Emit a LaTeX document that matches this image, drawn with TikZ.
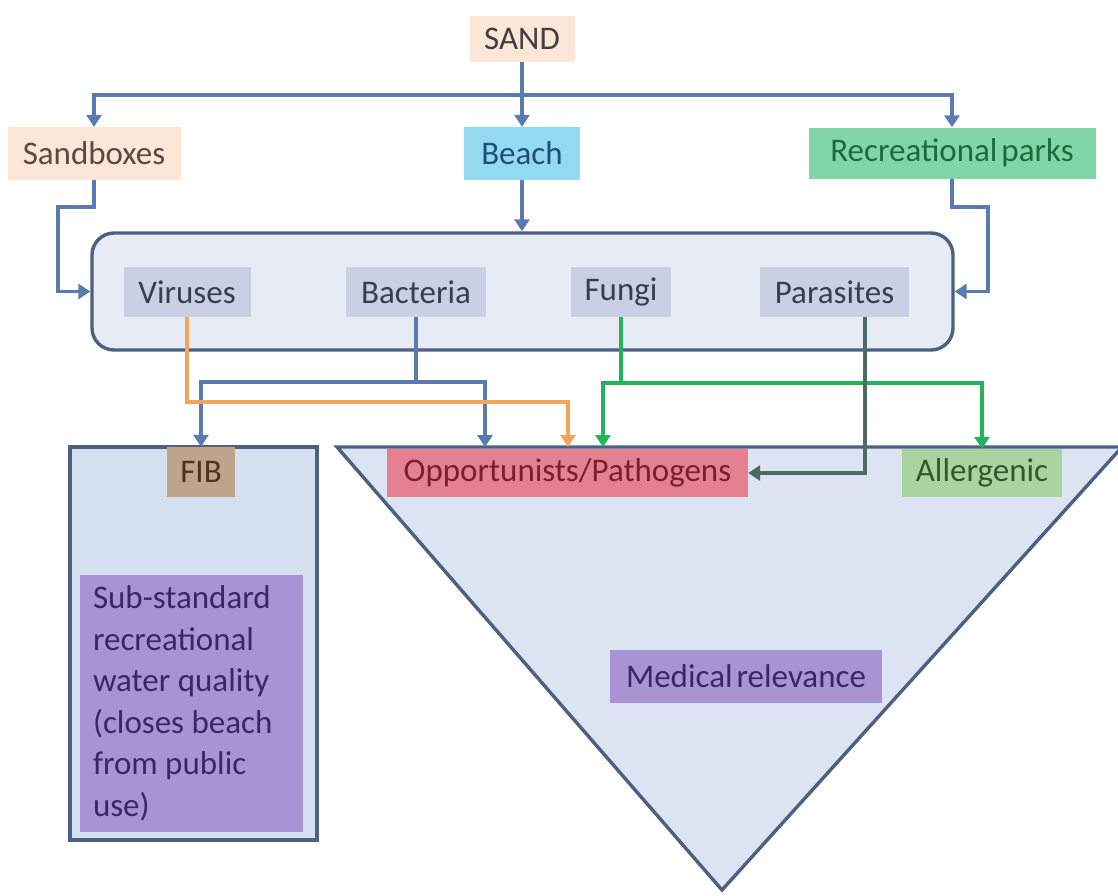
\documentclass[tikz,border=0pt]{standalone}
\usepackage{fontspec}
\setmainfont{Carlito}
\usetikzlibrary{arrows.meta}
\definecolor{cSandF}{HTML}{FCE6D8}
\definecolor{cBeachF}{HTML}{93D9F0}
\definecolor{cBeachT}{HTML}{1F4E79}
\definecolor{cParkF}{HTML}{80D6A8}
\definecolor{cParkT}{HTML}{1E6B3A}
\definecolor{cBigF}{HTML}{E6EBF6}
\definecolor{cBord}{HTML}{4D6080}
\definecolor{cInF}{HTML}{CACFE3}
\definecolor{cInT}{HTML}{363E52}
\definecolor{cFibOut}{HTML}{D4E0EF}
\definecolor{cFibF}{HTML}{BFA38C}
\definecolor{cFibT}{HTML}{4A3320}
\definecolor{cPurF}{HTML}{A993D4}
\definecolor{cPurT}{HTML}{3A2766}
\definecolor{cTriF}{HTML}{DCE4F3}
\definecolor{cOppF}{HTML}{E4808F}
\definecolor{cOppT}{HTML}{7A1F2C}
\definecolor{cAllF}{HTML}{A9D4A1}
\definecolor{cAllT}{HTML}{2E5A2A}
\definecolor{cSbT}{HTML}{5A4A42}
\definecolor{cLB}{HTML}{5B7BB0}
\definecolor{cLO}{HTML}{F2A65A}
\definecolor{cLG}{HTML}{22B35B}
\definecolor{cLP}{HTML}{4A6B66}
\tikzset{
  lbl/.style={rectangle, inner sep=0pt, font=\fontsize{33}{41.5}\selectfont},
  tip/.tip={Triangle[width=15pt,length=12pt]},
  conn/.style={line width=3.4pt, -tip},
  cB/.style={conn, draw=cLB},
  cO/.style={conn, draw=cLO},
  cG/.style={conn, draw=cLG},
  cP/.style={conn, draw=cLP},
  frame/.style={line width=3.4pt, draw=cBord},
}
\begin{document}
\begin{tikzpicture}[x=1pt,y=-1pt]
\useasboundingbox (0,0) rectangle (1118,895);
\fill[white] (0,0) rectangle (1118,895);

% background shapes
\node[frame, fill=cBigF, rounded corners=22pt, rectangle, minimum width=861pt, minimum height=117pt, inner sep=0pt] (bigbox) at (522.5,291.5) {};
\node[frame, fill=cFibOut, rectangle, minimum width=247pt, minimum height=393pt, inner sep=0pt] (fibbox) at (193.5,643.5) {};
\coordinate (tl) at (337,447);
\coordinate (tr) at (1122,447);
\coordinate (tb) at (722,890);
\draw[frame, fill=cTriF, line join=miter] (tl) -- (tr) -- (tb) -- cycle;

% top nodes
\node[lbl, fill=cSandF, text=black!75, minimum width=105pt, minimum height=46pt] (sand) at (522,39) {SAND};
\node[lbl, fill=cSandF, text=cSbT, minimum width=173pt, minimum height=53pt] (sandbox) at (94,153.5) {Sandboxes};
\node[lbl, fill=cBeachF, text=cBeachT, minimum width=116pt, minimum height=53pt] (beach) at (522,153.5) {Beach};
\node[lbl, fill=cParkF, text=cParkT, minimum width=287pt, minimum height=51pt] (parks) at (952,153) {Recreational\hspace{4pt}parks};

% inner nodes
\node[lbl, fill=cInF, text=cInT, minimum width=127pt, minimum height=50pt] (viruses) at (187,292) {Viruses};
\node[lbl, fill=cInF, text=cInT, minimum width=140pt, minimum height=50pt] (bacteria) at (416,292) {Bacteria};
\node[lbl, fill=cInF, text=cInT, minimum width=100pt, minimum height=50pt] (fungi) at (621,292) {Fungi};
\node[lbl, fill=cInF, text=cInT, minimum width=149pt, minimum height=50pt] (parasites) at (834.5,292) {Parasites};

% bottom nodes
\node[lbl, fill=cFibF, text=cFibT, minimum width=68pt, minimum height=50pt] (fib) at (201,472) {FIB};
\node[lbl, fill=cPurF, text=cPurT, minimum width=223pt, minimum height=257pt, text width=197pt, align=flush left] (sub) at (191.5,703.5) {Sub-standard\\recreational\\water quality\\(closes beach\\from public\\use)};
\node[lbl, fill=cOppF, text=cOppT, minimum width=361pt, minimum height=48pt] (opp) at (567.5,473) {Opportunists/Pathogens};
\node[lbl, fill=cAllF, text=cAllT, minimum width=160pt, minimum height=48pt] (allerg) at (982,473) {Allergenic};
\node[lbl, fill=cPurF, text=cPurT, minimum width=272pt, minimum height=53pt] (med) at (746,676.5) {Medical\hspace{4pt}relevance};

% connectors top
\coordinate (hbar) at (522,95);
\draw[cB, tip-tip, line join=miter] (sandbox.north) |- (hbar) -| (parks.north);
\draw[cB] (sand.south) -- (beach.north);
\draw[cB] (beach.south) -- (beach.south |- bigbox.north);
\coordinate (jl) at (58,207);
\coordinate (jr) at (988,207);
\draw[cB, line join=miter] (sandbox.south) |- (jl) |- (bigbox.west);
\draw[cB, line join=miter] (parks.south) |- (jr) |- (bigbox.east);

% connectors bottom
\coordinate (bj) at (416,382);
\coordinate (t1) at (485,447);
\draw[line width=3.4pt, draw=cLB] (bacteria.south) -- (bj);
\draw[cB, line join=miter] (bj) -| (fib.north);
\draw[cB, line join=miter] (bj) -| (t1);

\coordinate (ob) at (568,402);
\coordinate (t2) at (568,447);
\draw[cO, line join=miter] (viruses.south) |- (ob) -- (t2);

\coordinate (gj) at (621,383);
\coordinate (t3) at (603,447);
\draw[line width=3.4pt, draw=cLG] (fungi.south) -- (gj);
\draw[cG, line join=miter] (gj) -| (t3);
\draw[cG, line join=miter] (gj) -| (allerg.north);

\coordinate (ps) at (865,317);
\draw[cP, line join=miter] (ps) |- (opp.east);
\end{tikzpicture}
\end{document}
